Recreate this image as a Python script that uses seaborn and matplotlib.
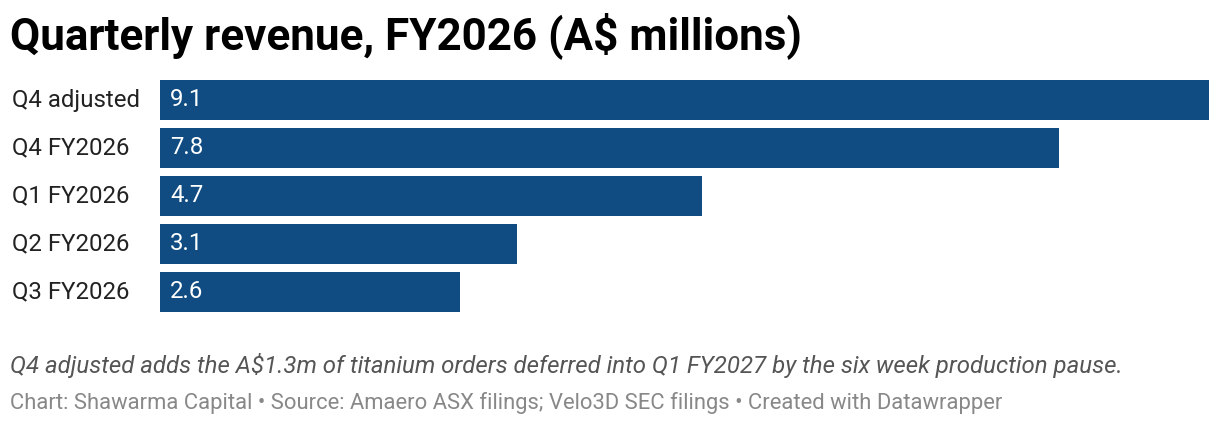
import matplotlib
matplotlib.use("Agg")
import matplotlib.pyplot as plt
import seaborn as sns
import pandas as pd

categories = ["Q4 adjusted", "Q4 FY2026", "Q1 FY2026", "Q2 FY2026", "Q3 FY2026"]
values = [9.1, 7.8, 4.7, 3.1, 2.6]
value_labels = ["9.1", "7.8", "4.7", "3.1", "2.6"]

title = "Quarterly revenue, FY2026 (A$ millions)"
note = "Q4 adjusted adds the A$1.3m of titanium orders deferred into Q1 FY2027 by the six week production pause."
credit = "Chart: Shawarma Capital \u2022 Source: Amaero ASX filings; Velo3D SEC filings \u2022 Created with Datawrapper"

sns.set_theme(style="white")
plt.rcParams["font.family"] = ["Roboto", "DejaVu Sans"]

BAR = "#104c81"
W, H = 1220, 426
fig = plt.figure(figsize=(W / 100, H / 100), dpi=100)
ax = fig.add_axes([160 / W, 1 - 316 / H, (1209 - 160) / W, 240 / H])

df = pd.DataFrame({"cat": categories, "val": values})
sns.barplot(data=df, x="val", y="cat", order=categories, color=BAR,
            saturation=1, width=40 / 48, linewidth=0, edgecolor="none", ax=ax)
ax.set_xlim(0, 9.1)
ax.set_ylim(4.5, -0.5)
ax.set_xlabel("")
ax.set_ylabel("")
ax.set_xticks([])
ax.set_yticks([])
for s in ax.spines.values():
    s.set_visible(False)

for i, (c, lab) in enumerate(zip(categories, value_labels)):
    ax.text(10 / 1049 * 9.1, i, lab, color="white", fontsize=17.3,
            va="center", ha="left")
    fig.text(12 / W, 1 - (100 + 48 * i) / H, c, color="#222222",
             fontsize=17.3, va="center", ha="left")

fig.text(10 / W, 1 - 49 / H, title, fontsize=31.7, fontweight="bold",
         color="#000000", ha="left", va="baseline")
fig.text(10 / W, 1 - 373 / H, note, fontsize=17.3, style="italic",
         color="#555555", ha="left", va="baseline")
fig.text(10 / W, 1 - 409 / H, credit, fontsize=15.8, color="#888888",
         ha="left", va="baseline")

fig.savefig("out.png", dpi=100, facecolor="white")
